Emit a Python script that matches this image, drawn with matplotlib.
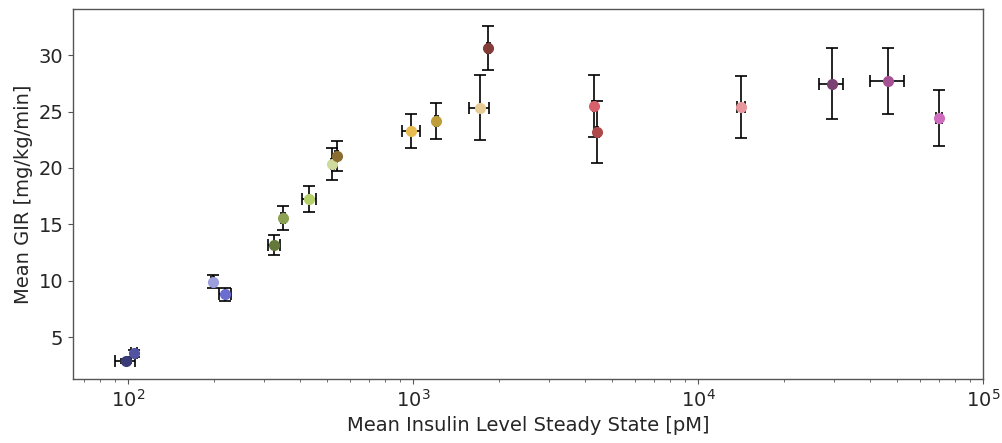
import matplotlib
matplotlib.use("Agg")
import matplotlib.pyplot as plt

# Data
insulin = [98, 105, 198, 219, 325, 349, 431, 521, 540, 986, 1206, 1715, 1838,
           4318, 4413, 14170, 29500, 46500, 70000]
insulin_err = [8, 2.5, 3, 11, 16, 6, 24, 6, 6, 74, 15, 137, 20,
               40, 40, 500, 2850, 6300, 1700]
gir = [2.87, 3.55, 9.9, 8.79, 13.16, 15.58, 17.26, 20.34, 21.05, 23.26, 24.18,
       25.36, 30.6, 25.52, 23.2, 25.37, 27.49, 27.72, 24.44]
gir_err = [0.15, 0.3, 0.58, 0.59, 0.89, 1.05, 1.14, 1.43, 1.3, 1.5, 1.58,
           2.9, 1.95, 2.75, 2.75, 2.75, 3.15, 2.9, 2.5]
colors = ['#393b79', '#5254a3', '#9c9ede', '#6b6ecf',
          '#637939', '#8ca252', '#b5cf6b', '#cedb9c',
          '#8c6d31', '#e7ba52', '#bd9e39', '#e7cb94',
          '#843c39', '#d6616b', '#ad494a', '#e7969c',
          '#7b4173', '#a55194', '#ce6dbd']

plt.rcParams['font.family'] = ['DejaVu Sans']
plt.rcParams['font.size'] = 14

fig = plt.figure(figsize=(10.03, 4.43), dpi=100)
ax = fig.add_axes([0.0728, 0.1445, 0.9072, 0.8352])

for xv, xe, yv, ye, c in zip(insulin, insulin_err, gir, gir_err, colors):
    ax.errorbar(xv, yv, xerr=xe, yerr=ye, fmt='o', color=c, markersize=7,
                ecolor='black', elinewidth=1.2, capsize=4.5, capthick=1.2,
                zorder=2)

ax.set_xscale('log')
ax.set_xlim(64.1, 1e5)
ax.set_ylim(1.28, 34.1)
ax.set_yticks([5, 10, 15, 20, 25, 30])

ax.set_xlabel('Mean Insulin Level Steady State [pM]', color='#262626', fontsize=14)
ax.set_ylabel('Mean GIR [mg/kg/min]', color='#262626', fontsize=14)
ax.tick_params(axis='both', which='both', colors='#555555', labelcolor='#262626',
               labelsize=14)
for s in ax.spines.values():
    s.set_color('#555555')
    s.set_linewidth(1.0)

fig.savefig('out.png', dpi=100)
